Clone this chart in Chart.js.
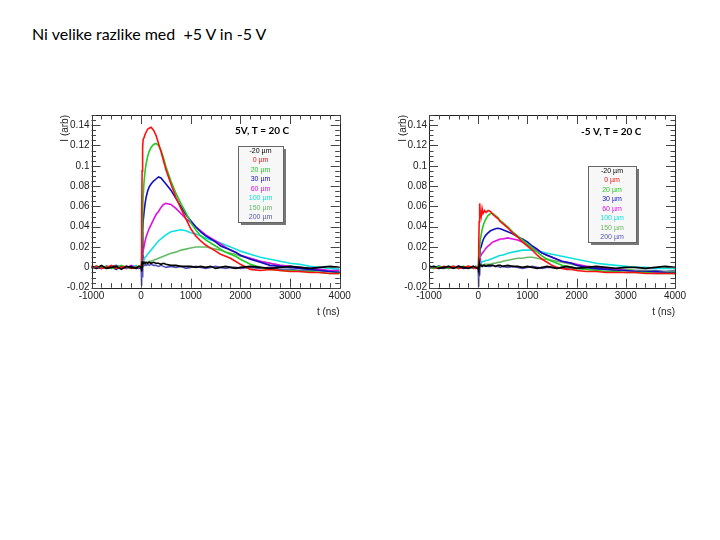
<!DOCTYPE html>
<html>
<head>
<meta charset="utf-8">
<script src="https://cdn.jsdelivr.net/npm/chart.js@4/dist/chart.umd.min.js"></script>
<style>
  html, body { margin:0; padding:0; background:#fff; width:720px; height:540px; overflow:hidden; }
  #title { position:absolute; left:32px; top:24px; font-family:Lato, "Open Sans", sans-serif; font-size:16px; color:#000; white-space:pre; }
  #c1 { position:absolute; left:0; top:0; }
  #c2 { position:absolute; left:370px; top:0; }
</style>
</head>
<body>
<div id="title">Ni velike razlike med  +5 V in -5 V</div>
<canvas id="c1" width="370" height="340"></canvas>
<canvas id="c2" width="350" height="340"></canvas>
<script>
// ---------------- DATA ----------------
const times = [-1000,-900,-800,-700,-600,-500,-400,-300,-200,-100,-50,0,
  10,20,30,40,60,80,100,130,160,200,250,300,350,400,450,500,
  600,700,800,900,1000,1100,1200,1300,1400,1500,1600,1700,1800,1900,2000,
  2200,2400,2600,2800,3000,3200,3400,3600,3800,4000];

const seriesLabels = ["-20 \u00b5m","0 \u00b5m","20 \u00b5m","30 \u00b5m","60 \u00b5m","100 \u00b5m","150 \u00b5m","200 \u00b5m"];
const xTickValues = [-1000,0,1000,2000,3000,4000];
const xTickLabels = ["-1000","0","1000","2000","3000","4000"];
const yTickValues = [-0.02,0,0.02,0.04,0.06,0.08,0.1,0.12,0.14];
const yTickLabels = ["-0.02","0","0.02","0.04","0.06","0.08","0.1","0.12","0.14"];
const leftTitle = "5V, T = 20 C";
const rightTitle = "-5 V, T = 20 C";

// Left panel (+5 V)
const L_m20 = [0.001,-0.001,0.002,-0.001,0.000,0.001,-0.002,0.001,0.000,-0.001,0.001,0.000,
  -0.004,0.006,0.002,0.004,0.005,0.004,0.005,0.004,0.005,0.004,0.005,0.004,0.004,0.003,0.004,0.003,
  0.002,0.002,0.001,0.001,0.001,0.000,0.001,0.000,0.001,-0.001,0.000,0.001,0.000,-0.001,0.000,
  0.001,0.000,-0.001,0.000,0.001,0.000,-0.001,0.000,0.001,0.000];
const L_0 = [0.000,0.001,-0.001,0.000,0.002,-0.001,0.000,0.001,-0.001,0.000,0.001,0.002,
  0.050,0.095,0.118,0.126,0.128,0.131,0.133,0.136,0.137,0.138,0.135,0.130,0.122,0.114,0.105,0.096,
  0.082,0.069,0.058,0.048,0.038,0.031,0.026,0.022,0.019,0.016,0.013,0.011,0.009,0.006,0.003,
  -0.002,-0.003,-0.002,-0.003,-0.004,-0.004,-0.005,-0.005,-0.006,-0.006];
const L_20 = [-0.001,0.001,0.000,0.001,-0.001,0.000,0.002,0.000,-0.001,0.001,0.000,0.001,
  0.010,0.030,0.055,0.070,0.085,0.095,0.102,0.109,0.114,0.118,0.121,0.122,0.120,0.115,0.108,0.099,
  0.085,0.073,0.063,0.054,0.044,0.037,0.031,0.027,0.024,0.021,0.018,0.015,0.013,0.011,0.008,
  0.003,0.000,-0.002,-0.003,-0.003,-0.004,-0.004,-0.005,-0.006,-0.006];
const L_30 = [0.001,0.000,-0.001,0.001,0.000,-0.002,0.001,0.000,0.001,-0.001,0.000,-0.001,
  0.000,0.020,0.035,0.045,0.055,0.063,0.069,0.075,0.079,0.082,0.085,0.087,0.089,0.088,0.085,0.082,
  0.076,0.068,0.060,0.052,0.046,0.040,0.035,0.031,0.028,0.025,0.021,0.019,0.017,0.015,0.012,
  0.008,0.005,0.002,0.001,0.000,-0.001,-0.002,-0.003,-0.004,-0.005];
const L_60 = [0.000,-0.001,0.001,0.000,-0.001,0.001,0.000,-0.001,0.002,0.000,-0.001,0.000,
  0.004,0.008,0.012,0.016,0.021,0.026,0.030,0.034,0.038,0.042,0.047,0.052,0.055,0.059,0.062,0.063,
  0.062,0.058,0.053,0.048,0.044,0.040,0.036,0.032,0.029,0.026,0.023,0.020,0.017,0.015,0.012,
  0.009,0.006,0.004,0.002,0.001,0.000,-0.001,-0.002,-0.003,-0.003];
const L_100 = [0.001,0.000,0.001,-0.001,0.001,0.000,-0.001,0.001,0.000,0.002,0.000,0.001,
  0.010,0.005,0.006,0.007,0.008,0.010,0.011,0.013,0.015,0.017,0.020,0.023,0.026,0.028,0.030,0.032,
  0.035,0.036,0.037,0.036,0.034,0.033,0.031,0.029,0.027,0.026,0.024,0.022,0.020,0.018,0.016,
  0.013,0.010,0.008,0.006,0.004,0.003,0.001,0.000,-0.001,-0.002];
const L_150 = [0.000,0.001,-0.001,0.001,0.000,0.001,-0.001,0.000,0.001,-0.001,0.001,0.000,
  0.000,0.002,0.003,0.003,0.004,0.004,0.005,0.005,0.006,0.006,0.007,0.008,0.009,0.010,0.011,0.012,
  0.014,0.015,0.017,0.018,0.019,0.020,0.020,0.020,0.019,0.018,0.017,0.015,0.014,0.013,0.011,
  0.009,0.006,0.004,0.002,0.001,-0.001,-0.002,-0.003,-0.004,-0.005];
const L_200 = [-0.001,0.001,0.000,-0.001,0.001,0.002,0.000,-0.001,0.000,0.001,-0.001,0.002,
  -0.018,0.035,-0.010,0.012,0.002,0.003,0.002,0.003,0.002,0.003,0.002,0.002,0.001,0.002,0.001,0.000,
  0.001,0.000,0.001,-0.001,0.000,0.001,0.000,-0.001,0.000,0.001,0.000,-0.001,0.000,0.000,-0.001,
  0.000,-0.001,0.000,-0.002,-0.002,-0.003,-0.003,-0.003,-0.004,-0.004];

// Right panel (-5 V)
const R_m20 = [0.000,0.001,-0.001,0.000,0.001,-0.001,0.001,0.000,-0.001,0.001,0.000,-0.001,
  -0.003,0.004,0.001,0.002,0.002,0.001,0.002,0.002,0.001,0.002,0.002,0.002,0.001,0.002,0.002,0.001,
  0.002,0.001,0.001,0.000,0.001,0.000,-0.001,0.000,0.001,0.000,-0.001,0.000,0.001,0.000,-0.001,
  0.000,0.001,0.000,-0.001,0.000,0.000,-0.001,0.000,0.001,0.000];
const R_0 = [0.001,0.000,-0.001,0.001,0.000,0.001,-0.001,0.000,0.001,0.000,-0.001,0.001,
  0.020,0.045,0.063,0.055,0.050,0.058,0.053,0.056,0.054,0.056,0.055,0.052,0.050,0.048,0.045,0.043,
  0.039,0.034,0.030,0.025,0.021,0.017,0.012,0.008,0.005,0.002,0.000,-0.001,-0.002,-0.002,-0.003,
  -0.004,-0.004,-0.005,-0.005,-0.005,-0.005,-0.006,-0.006,-0.006,-0.006];
const R_20 = [0.000,-0.001,0.001,0.000,-0.001,0.001,0.000,0.001,-0.001,0.000,0.001,0.000,
  0.000,0.010,0.020,0.026,0.032,0.037,0.041,0.045,0.048,0.051,0.053,0.053,0.051,0.049,0.046,0.044,
  0.040,0.035,0.031,0.027,0.023,0.019,0.015,0.011,0.008,0.006,0.004,0.002,0.001,0.000,-0.001,
  -0.002,-0.003,-0.004,-0.004,-0.005,-0.005,-0.005,-0.006,-0.006,-0.006];
const R_30 = [0.001,0.000,0.001,-0.001,0.000,0.000,0.001,-0.001,0.000,0.001,-0.001,0.000,
  -0.005,0.015,0.012,0.018,0.020,0.024,0.027,0.030,0.032,0.034,0.036,0.037,0.038,0.0385,0.038,0.037,
  0.035,0.033,0.030,0.028,0.025,0.021,0.018,0.014,0.012,0.010,0.008,0.006,0.005,0.004,0.002,
  0.000,-0.001,-0.002,-0.003,-0.003,-0.004,-0.004,-0.004,-0.005,-0.005];
const R_60 = [-0.001,0.000,0.001,0.000,-0.001,0.000,0.001,0.000,0.000,-0.001,0.001,0.000,
  0.010,0.005,0.008,0.010,0.012,0.014,0.015,0.017,0.019,0.021,0.023,0.025,0.026,0.027,0.028,0.028,
  0.029,0.028,0.027,0.025,0.022,0.019,0.017,0.014,0.012,0.010,0.008,0.006,0.005,0.004,0.003,
  0.001,0.000,-0.001,-0.002,-0.003,-0.004,-0.004,-0.005,-0.005,-0.006];
const R_100 = [0.000,0.001,0.000,-0.001,0.001,0.000,-0.001,0.001,0.000,0.000,0.001,-0.001,
  0.005,0.003,0.004,0.004,0.005,0.005,0.006,0.006,0.007,0.007,0.008,0.009,0.010,0.011,0.012,0.012,
  0.014,0.015,0.016,0.017,0.017,0.017,0.016,0.015,0.014,0.013,0.012,0.011,0.010,0.009,0.008,
  0.006,0.004,0.003,0.002,0.001,0.000,0.000,-0.001,-0.001,-0.001];
const R_150 = [0.001,0.000,-0.001,0.000,0.001,0.000,0.000,-0.001,0.001,0.000,0.000,0.001,
  0.000,0.001,0.001,0.002,0.002,0.002,0.002,0.003,0.003,0.003,0.003,0.004,0.004,0.005,0.005,0.006,
  0.007,0.008,0.009,0.009,0.010,0.010,0.009,0.008,0.008,0.007,0.006,0.005,0.004,0.003,0.002,
  0.001,0.000,-0.001,-0.002,-0.002,-0.003,-0.003,-0.004,-0.004,-0.004];
const R_200 = [0.000,-0.001,0.001,0.000,0.000,0.001,-0.001,0.000,0.001,-0.001,0.000,0.001,
  -0.019,0.022,-0.008,0.010,0.002,0.001,0.002,0.001,0.002,0.001,0.001,0.002,0.001,0.001,0.000,0.001,
  0.000,0.001,0.000,-0.001,0.000,0.001,0.000,-0.001,0.000,0.000,-0.001,0.000,-0.001,0.000,-0.001,
  -0.001,-0.002,-0.002,-0.002,-0.003,-0.003,-0.003,-0.003,-0.004,-0.003];

const leftSeries = [L_m20, L_0, L_20, L_30, L_60, L_100, L_150, L_200];
const rightSeries = [R_m20, R_0, R_20, R_30, R_60, R_100, R_150, R_200];

// ---------------- STYLE ----------------
const colors = ["#000000","#ff1010","#22cc22","#1010c0","#e010e0","#10e0e0","#66bb66","#5555b8"];
const labelFont = "Liberation Sans, Arial, sans-serif";

const rootPlugin = {
  id: 'rootFrame',
  afterDatasetsDraw(chart, args, opts) {
    const ctx = chart.ctx;
    const a = chart.chartArea;
    const xs = chart.scales.x, ys = chart.scales.y;
    ctx.save();
    ctx.strokeStyle = '#222';
    ctx.lineWidth = 1;
    ctx.beginPath();
    ctx.rect(Math.round(a.left)+0.5, Math.round(a.top)+0.5, Math.round(a.right-a.left), Math.round(a.bottom-a.top));
    ctx.stroke();
    // ticks
    ctx.strokeStyle = '#444';
    ctx.beginPath();
    for (let t = xs.min; t <= xs.max + 1e-6; t += 200) {
      const major = Math.abs(t % 1000) < 1e-6;
      const L = major ? 9 : 4.5;
      const px = Math.round(xs.getPixelForValue(t)) + 0.5;
      ctx.moveTo(px, a.bottom); ctx.lineTo(px, a.bottom - L);
      ctx.moveTo(px, a.top); ctx.lineTo(px, a.top + L);
    }
    for (let i = -4; i <= 30; i++) {
      const v = i * 0.005;
      if (v < ys.min - 1e-9 || v > ys.max + 1e-9) continue;
      const major = (i % 4 === 0);
      const L = major ? 9 : 4.5;
      const py = Math.round(ys.getPixelForValue(v)) + 0.5;
      ctx.moveTo(a.left, py); ctx.lineTo(a.left + L, py);
      ctx.moveTo(a.right, py); ctx.lineTo(a.right - L, py);
    }
    ctx.stroke();

    // axis titles
    ctx.fillStyle = '#222';
    ctx.font = '10px ' + labelFont;
    ctx.textAlign = 'right';
    ctx.textBaseline = 'top';
    ctx.fillText('t (ns)', a.right, a.bottom + 20);
    ctx.save();
    ctx.translate(a.left - 26, a.top);
    ctx.rotate(-Math.PI / 2);
    ctx.textAlign = 'right';
    ctx.textBaseline = 'middle';
    ctx.fillText('I (arb)', 0, 0);
    ctx.restore();

    // annotation title
    ctx.fillStyle = '#000';
    ctx.font = 'bold 10px Lato, "Open Sans", sans-serif';
    ctx.textAlign = 'left';
    ctx.textBaseline = 'middle';
    ctx.fillText(opts.title, opts.titleX, opts.titleY);

    // legend box
    const lx = opts.legX, ly = opts.legY, lw = opts.legW, lh = opts.legH;
    ctx.fillStyle = '#777';
    ctx.fillRect(lx + 3, ly + 3, lw, lh);
    ctx.fillStyle = '#f7f7f7';
    ctx.fillRect(lx, ly, lw, lh);
    ctx.strokeStyle = '#666';
    ctx.lineWidth = 1;
    ctx.strokeRect(lx + 0.5, ly + 0.5, lw, lh);
    ctx.font = '7px ' + labelFont;
    ctx.textAlign = 'center';
    ctx.textBaseline = 'middle';
    const n = chart.data.datasets.length;
    const step = lh / n;
    chart.data.datasets.forEach((ds, i) => {
      ctx.fillStyle = ds.borderColor;
      ctx.fillText(ds.label, lx + lw / 2, ly + step * (i + 0.5));
    });
    ctx.restore();
  }
};

function makeChart(id, series, padRight, yWidth, pluginOpts) {
  const ctx = document.getElementById(id).getContext('2d');
  return new Chart(ctx, {
    type: 'line',
    data: {
      datasets: series.map((vals, i) => ({
        label: seriesLabels[i],
        data: times.map((t, j) => ({ x: t, y: vals[j] })),
        borderColor: colors[i],
        backgroundColor: colors[i],
        borderWidth: 1.6,
        pointRadius: 0,
        fill: false,
        tension: 0
      }))
    },
    options: {
      responsive: false,
      animation: false,
      devicePixelRatio: 1,
      layout: { padding: { top: 115, right: padRight, left: 0, bottom: 0 } },
      plugins: {
        legend: { display: false },
        tooltip: { enabled: false },
        rootFrame: pluginOpts
      },
      scales: {
        x: {
          type: 'linear', min: -1000, max: 4000,
          afterBuildTicks: s => { s.ticks = xTickValues.map(v => ({ value: v })); },
          afterFit: s => { s.height = 340 - 287.7; },
          ticks: {
            callback: (v) => { const k = xTickValues.indexOf(v); return k >= 0 ? xTickLabels[k] : ''; },
            font: { family: labelFont, size: 10 }, color: '#222',
            maxRotation: 0, autoSkip: false, padding: 3
          },
          grid: { display: false, drawTicks: false },
          border: { display: false }
        },
        y: {
          type: 'linear', min: -0.02, max: 0.15,
          afterBuildTicks: s => { s.ticks = yTickValues.map(v => ({ value: v })); },
          afterFit: s => { s.width = yWidth; },
          ticks: {
            callback: (v) => { const k = yTickValues.findIndex(w => Math.abs(w - v) < 1e-9); return k >= 0 ? yTickLabels[k] : ''; },
            font: { family: labelFont, size: 10 }, color: '#222',
            autoSkip: false, padding: 2
          },
          grid: { display: false, drawTicks: false },
          border: { display: false }
        }
      }
    },
    plugins: [rootPlugin]
  });
}

makeChart('c1', leftSeries, 370 - 339.7, 91.5, {
  title: leftTitle, titleX: 235, titleY: 131,
  legX: 238, legY: 146, legW: 45, legH: 76
});
makeChart('c2', rightSeries, 350 - 305, 429 - 370, {
  title: rightTitle, titleX: 581 - 370, titleY: 132,
  legX: 588 - 370, legY: 166, legW: 48, legH: 76
});
</script>
</body>
</html>
